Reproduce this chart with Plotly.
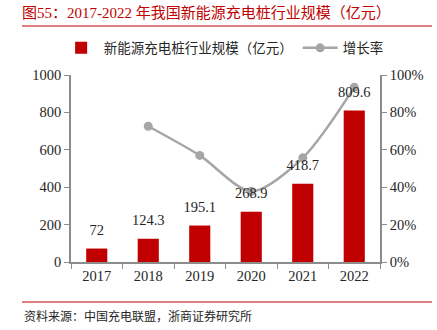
import plotly.graph_objects as go

years = ["2017", "2018", "2019", "2020", "2021", "2022"]
scale = [72, 124.3, 195.1, 268.9, 418.7, 809.6]
growth = [None, 72.6, 57.0, 37.8, 55.7, 93.4]
scale_labels = ["72", "124.3", "195.1", "268.9", "418.7", "809.6"]

RED = "#c00000"
GRAY = "#a6a6a6"
AXIS = "#8c8c8c"
FONT = "Liberation Serif, Times New Roman, Noto Sans CJK SC"

LEFT_MAX, RIGHT_MAX = 1000, 100

fig = go.Figure()
fig.add_trace(go.Bar(
    x=years, y=scale, name="新能源充电桩行业规模（亿元）",
    marker=dict(color=RED, line=dict(width=0)),
    width=0.41,
))
fig.add_trace(go.Scatter(
    x=years, y=growth, name="增长率", yaxis="y2",
    mode="lines+markers",
    line=dict(color=GRAY, width=2.5, shape="spline", smoothing=0.8),
    marker=dict(color=GRAY, size=9),
    connectgaps=False,
))
# bar value labels, drawn on the overlaying axis so they sit above the line
fig.add_trace(go.Scatter(
    x=years, y=[v * RIGHT_MAX / LEFT_MAX for v in scale], yaxis="y2",
    mode="markers+text", text=scale_labels,
    textposition="top center", showlegend=False, hoverinfo="skip",
    marker=dict(size=14, opacity=0),
    textfont=dict(family=FONT, size=14.5, color="#262626"),
    cliponaxis=False,
))

fig.update_layout(
    width=437, height=330,
    margin=dict(l=71, r=57, t=75, b=68),
    paper_bgcolor="white", plot_bgcolor="white",
    font=dict(family=FONT, size=14, color="#262626"),
    title=dict(
        text="图55：2017-2022 年我国新能源充电桩行业规模（亿元）",
        font=dict(family=FONT, size=15, color=RED),
        xref="container", yref="container", pad=dict(l=0, r=0, t=0, b=0),
        x=22/437, xanchor="left", y=1-13/330, yanchor="middle",
    ),
    showlegend=True,
    legend=dict(
        orientation="h", x=-0.04, xanchor="left", y=1.144, yanchor="middle",
        font=dict(family=FONT, size=13.5, color="#262626"),
        itemwidth=35, bgcolor="rgba(0,0,0,0)", traceorder="normal",
    ),
    xaxis=dict(
        type="category", showline=True, linecolor=AXIS, linewidth=1.5,
        ticks="outside", tickson="boundaries", ticklen=5, tickcolor=AXIS,
        tickfont=dict(family=FONT, size=14.5, color="#262626"),
        showgrid=False, zeroline=False,
    ),
    yaxis=dict(
        range=[0, LEFT_MAX], dtick=200, showline=True, linecolor=AXIS, linewidth=1.5,
        ticks="outside", ticklen=5, tickcolor=AXIS, showgrid=False, zeroline=False,
        tickfont=dict(family=FONT, size=14.5, color="#262626"),
    ),
    yaxis2=dict(
        range=[0, RIGHT_MAX], dtick=20, ticksuffix="%", overlaying="y", side="right",
        showline=True, linecolor=AXIS, linewidth=1.5,
        ticks="outside", ticklen=5, tickcolor=AXIS, showgrid=False, zeroline=False,
        tickfont=dict(family=FONT, size=14.5, color="#262626"),
    ),
)

fig.add_shape(type="line", xref="paper", yref="paper",
              x0=(22-71)/309, x1=(432-71)/309, y0=(262-26)/187, y1=(262-26)/187,
              line=dict(color=RED, width=1.2))
fig.add_shape(type="line", xref="paper", yref="paper",
              x0=(22-71)/309, x1=(432-71)/309, y0=(262-302)/187, y1=(262-302)/187,
              line=dict(color=RED, width=1.2))
fig.add_annotation(
    text="资料来源：中国充电联盟，浙商证券研究所", showarrow=False,
    xref="paper", yref="paper", x=(22-71)/309, y=(262-316)/187,
    xanchor="left", yanchor="middle",
    font=dict(family=FONT, size=12, color="#262626"),
)

fig.write_html("out.html")
